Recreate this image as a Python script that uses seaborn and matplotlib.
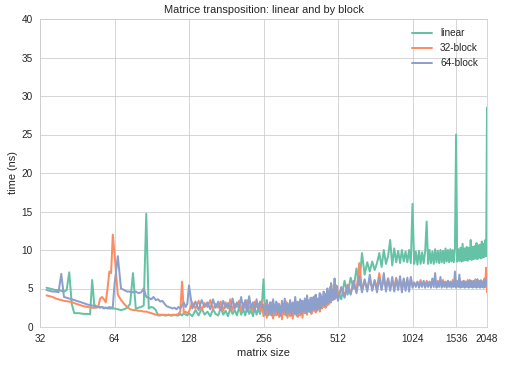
import pandas as pd
import matplotlib
matplotlib.use("Agg")
import matplotlib.pyplot as plt
import matplotlib.ticker as mticker
import seaborn as sns

# =====================================
# DATA
# =====================================

sizes = (
    list(range(34, 64))
    + list(range(64, 128, 2))
    + list(range(128, 512, 4))
    + list(range(512, 2049, 16))
)

linear_a = [5.1, 5.0, 4.9, 4.8, 4.8, 4.7, 4.6, 4.8, 7.1, 3.0,
            1.8, 1.8, 1.8, 1.75, 1.7, 1.7, 1.7, 1.65, 6.1, 2.9,
            2.7, 2.6, 2.6, 2.6, 2.5, 2.5, 2.5, 2.4, 2.4, 2.4]
linear_b = [2.4, 2.3, 2.2, 2.3, 2.5, 3.0, 7.0, 2.4, 2.5, 2.6,
            2.8, 14.7, 2.4, 2.6, 2.5, 2.2, 1.5, 1.5, 1.6, 1.5,
            1.5, 1.6, 1.5, 1.5, 1.6, 1.5, 1.5, 1.7, 1.5, 1.8,
            1.6, 1.5]
linear_c = [1.8, 1.4, 2.2, 1.5, 2.4, 1.6, 2.0, 1.4, 2.3, 1.7,
            1.5, 2.5, 1.6, 2.1, 1.4, 2.4, 1.7, 2.2, 1.5, 2.6,
            1.6, 2.3, 1.5, 2.7, 1.7, 2.2, 1.4, 2.5, 1.6, 2.4,
            1.7, 2.6, 6.2, 1.6, 2.8, 1.5, 2.4, 1.7, 2.9, 1.5,
            2.5, 1.6, 2.8, 1.5, 2.6, 1.7, 2.9, 1.5, 2.4, 1.6,
            2.7, 1.5, 2.9, 1.6, 2.5, 1.8, 3.0, 1.6, 2.6, 1.7,
            3.0, 1.9, 3.2, 2.0, 2.8, 2.2, 3.3, 2.0, 3.1, 2.3,
            3.4, 2.3, 3.6, 2.5, 3.2, 2.6, 3.8, 2.7, 3.5, 2.9,
            3.8, 3.0, 4.2, 3.1, 4.4, 3.3, 4.0, 3.5, 4.6, 3.6,
            4.9, 3.7, 5.2, 3.9, 5.4, 4.0]
linear_d = [4.6, 3.6, 6.0, 4.2, 6.4, 5.0, 7.6, 5.4, 9.6, 6.8,
            8.4, 7.2, 8.5, 7.4, 8.3, 9.6, 7.8, 10.0, 8.2, 9.2,
            11.3, 8.0, 10.2, 8.4, 9.9, 8.3, 10.0, 8.5, 9.8, 8.4,
            10.0, 8.3, 16.0, 8.2, 9.8, 8.1, 9.9, 8.2, 9.7, 8.3,
            9.8, 13.7, 8.2, 10.0, 8.3, 9.8, 8.2, 10.1, 8.4, 9.9,
            8.3, 10.0, 8.4, 9.9, 8.3, 10.2, 8.5, 10.0, 8.4, 10.1,
            8.5, 10.0, 8.4, 10.2, 25.0, 8.5, 10.1, 8.6, 10.3, 8.5,
            10.8, 8.6, 10.2, 8.7, 10.4, 8.6, 10.3, 8.8, 11.3, 8.7,
            10.4, 8.8, 10.5, 8.9, 10.9, 8.8, 10.6, 9.0, 10.7, 8.9,
            11.1, 9.0, 10.8, 9.1, 11.3, 9.2, 28.5]

block32_a = [4.1, 4.0, 3.9, 3.7, 3.6, 3.5, 3.4, 3.35, 3.3, 3.25,
             3.1, 3.0, 2.9, 2.8, 2.7, 2.65, 2.6, 2.55, 2.5, 2.5,
             2.5, 2.6, 3.7, 3.9, 3.6, 3.2, 5.0, 7.2, 7.0, 12.0]
block32_b = [9.5, 4.2, 3.5, 3.0, 2.6, 2.3, 2.2, 2.2, 2.1, 2.1,
             2.0, 2.0, 1.9, 1.8, 1.7, 1.6, 1.6, 1.6, 1.55, 1.6,
             1.55, 1.6, 1.5, 1.6, 1.55, 1.6, 1.7, 2.0, 5.9, 1.8,
             2.0, 1.8]
block32_c = [2.0, 3.2, 2.4, 3.4, 2.2, 3.1, 2.6, 3.5, 2.3, 3.0,
             2.5, 3.3, 2.1, 3.2, 2.4, 3.6, 2.2, 3.0, 2.6, 3.4,
             2.0, 3.1, 2.5, 3.5, 2.3, 2.9, 2.1, 3.3, 2.6, 3.0,
             2.2, 3.4, 1.4, 3.0, 1.2, 2.8, 1.6, 3.2, 1.1, 2.6,
             1.5, 3.1, 1.3, 2.7, 1.0, 2.9, 1.6, 3.3, 1.2, 2.6,
             1.4, 3.0, 1.1, 2.8, 1.7, 3.2, 1.3, 2.5, 1.5, 3.4,
             1.2, 3.1, 1.8, 3.5, 1.6, 2.9, 2.0, 3.8, 1.7, 3.2,
             2.1, 4.0, 1.9, 3.4, 2.3, 3.7, 2.0, 4.2, 2.4, 3.6,
             2.6, 4.4, 2.5, 3.9, 2.8, 4.6, 3.0, 5.2, 3.2, 4.8,
             3.5, 5.5, 3.6, 5.0, 3.9, 5.3]
block32_d = [3.8, 5.0, 4.2, 5.5, 4.4, 5.8, 4.6, 8.3, 4.8, 6.0,
             4.9, 6.2, 5.0, 6.0, 5.1, 7.0, 5.0, 6.1, 5.2, 6.3,
             5.0, 6.0, 5.1, 6.4, 5.2, 6.1, 5.0, 6.2, 5.1, 6.0,
             5.2, 6.3, 5.4, 5.7, 5.5, 5.8, 5.4, 6.1, 5.5, 5.8,
             5.4, 6.0, 5.5, 5.8, 5.4, 6.2, 5.5, 5.9, 5.4, 6.0,
             5.5, 5.8, 5.4, 6.1, 5.5, 5.9, 5.4, 6.0, 5.5, 5.8,
             5.4, 6.1, 5.5, 5.9, 5.4, 6.0, 5.5, 6.3, 5.4, 5.9,
             5.5, 6.0, 5.4, 5.8, 5.5, 6.1, 5.4, 5.9, 5.5, 6.0,
             5.4, 5.8, 5.5, 6.2, 5.4, 5.9, 5.5, 6.0, 5.4, 6.1,
             5.5, 5.9, 5.4, 6.3, 5.6, 7.7, 4.5]

block64_a = [4.8, 4.7, 4.6, 4.6, 4.5, 6.9, 3.9, 3.8, 3.7, 3.6,
             3.5, 3.4, 3.3, 3.2, 3.1, 3.0, 2.9, 2.85, 2.8, 2.7,
             2.65, 2.6, 2.5, 2.6, 2.4, 2.5, 2.4, 2.6, 2.5, 2.6]
block64_b = [5.5, 9.2, 5.0, 4.8, 4.6, 4.6, 4.5, 4.6, 4.4, 4.5,
             5.0, 3.9, 3.8, 3.6, 3.9, 3.5, 3.6, 3.3, 3.4, 3.0,
             2.7, 2.6, 2.5, 2.4, 2.5, 2.3, 2.6, 2.4, 2.8, 3.2,
             2.6, 3.0]
block64_c = [5.4, 2.4, 3.3, 2.2, 3.5, 2.6, 3.2, 2.3, 3.6, 2.5,
             3.3, 2.2, 3.4, 2.5, 3.1, 2.3, 3.7, 2.4, 3.2, 2.6,
             3.9, 2.2, 3.5, 2.0, 4.0, 2.4, 3.2, 2.1, 3.6, 2.3,
             3.3, 2.5, 2.9, 1.6, 3.5, 1.8, 3.2, 1.5, 3.6, 1.9,
             3.3, 1.7, 3.0, 1.5, 3.4, 1.9, 3.7, 1.6, 3.1, 1.8,
             3.5, 1.6, 3.2, 1.8, 3.9, 1.5, 3.3, 1.9, 3.6, 1.7,
             3.4, 2.0, 3.7, 1.8, 4.1, 2.1, 3.5, 1.9, 3.8, 2.2,
             3.9, 2.3, 4.2, 2.1, 3.7, 2.5, 4.4, 2.4, 3.9, 2.8,
             4.6, 2.8, 4.1, 3.0, 5.0, 3.2, 4.5, 3.3, 5.7, 3.5,
             4.8, 3.6, 6.3, 3.8, 5.2, 3.9]
block64_d = [3.4, 5.2, 3.8, 5.4, 4.2, 6.0, 4.4, 6.6, 4.5, 6.2,
             4.6, 6.8, 4.7, 6.1, 4.5, 6.4, 4.8, 7.0, 4.6, 6.3,
             4.7, 6.5, 4.6, 6.2, 4.8, 6.6, 4.5, 6.3, 4.7, 6.4,
             4.6, 6.5, 5.1, 5.8, 5.2, 5.9, 5.1, 5.8, 5.2, 6.0,
             5.1, 5.8, 5.2, 5.9, 5.1, 6.3, 5.2, 7.0, 5.1, 5.8,
             5.2, 6.5, 5.1, 5.9, 5.2, 5.8, 5.1, 6.0, 5.2, 5.9,
             5.1, 5.8, 5.2, 7.2, 5.1, 5.9, 5.2, 6.8, 5.1, 5.8,
             5.2, 6.0, 5.1, 5.9, 5.2, 5.8, 5.1, 6.1, 5.2, 5.9,
             5.1, 6.0, 5.2, 5.8, 5.1, 6.2, 5.2, 5.9, 5.1, 6.0,
             5.2, 5.9, 5.1, 6.1, 5.2, 6.2, 5.6]

series_names = ["linear", "32-block", "64-block"]
series_values = [
    linear_a + linear_b + linear_c + linear_d,
    block32_a + block32_b + block32_c + block32_d,
    block64_a + block64_b + block64_c + block64_d,
]

x_ticks = [32, 64, 128, 256, 512, 1024, 1536, 2048]
x_tick_labels = ["32", "64", "128", "256", "512", "1024", "1536", "2048"]

# =====================================
# STYLE
# =====================================

sns.set_style("whitegrid")
plt.rcParams["font.family"] = ["Liberation Sans", "DejaVu Sans"]

colors = sns.color_palette("Set2", 3)

# =====================================
# PLOT
# =====================================

fig = plt.figure(figsize=(505 / 72, 365 / 72), dpi=72)
ax = fig.add_axes([40 / 505, 38 / 365, 447 / 505, 308 / 365])

for name, values, color in zip(series_names, series_values, colors):
    df = pd.DataFrame({"size": sizes, "time": values})
    sns.lineplot(
        data=df,
        x="size",
        y="time",
        color=color,
        linewidth=2,
        label=name,
        estimator=None,
        sort=False,
        ax=ax
    )

ax.set_xscale("log", base=2)
ax.set_xlim(32, 2048)
ax.set_ylim(0, 40)
ax.set_xticks(x_ticks)
ax.set_xticklabels(x_tick_labels)
ax.xaxis.set_minor_locator(mticker.NullLocator())
ax.set_yticks(range(0, 41, 5))
ax.tick_params(labelsize=10)

ax.set_title("Matrice transposition: linear and by block", fontsize=11)
ax.set_xlabel("matrix size", fontsize=11)
ax.set_ylabel("time (ns)", fontsize=11)

ax.legend(loc="upper right", frameon=False, fontsize=10)

plt.savefig("out.png", dpi=72)
